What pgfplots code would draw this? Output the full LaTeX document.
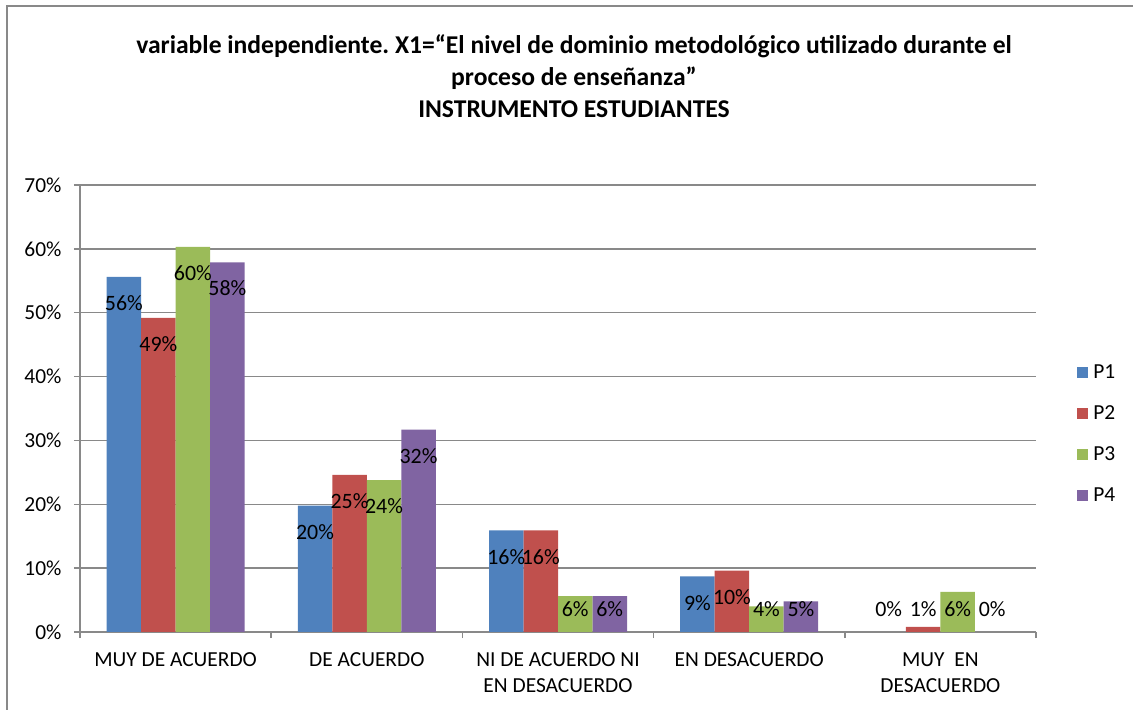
\documentclass[border=0pt]{standalone}
\usepackage{fontspec}
\setmainfont{Carlito}
\usepackage{pgfplots}
\usepackage{pgfplotstable}
\pgfplotsset{compat=1.18}
\frenchspacing
\definecolor{cP1}{HTML}{4F81BD}
\definecolor{cP2}{HTML}{C0504D}
\definecolor{cP3}{HTML}{9BBB59}
\definecolor{cP4}{HTML}{8064A2}
\definecolor{gridc}{HTML}{898989}
\pgfplotstableread{
cat P1 P2 P3 P4
0 55.6 49.2 60.3 57.9
1 19.8 24.6 23.8 31.7
2 15.9 15.9 5.6 5.6
3 8.7 9.6 4.0 4.8
4 0 0.8 6.3 0
}\datatable
\pgfplotsset{sqleg/.style={legend image code/.code={\fill[##1] (0bp,-5.5bp) rectangle (11bp,5.5bp);}}}
\begin{document}
\begin{tikzpicture}
\useasboundingbox (0,0) rectangle (1133bp,710bp);
\draw[gridc, line width=2bp] (7bp,-5bp) -- (7bp,703.5bp) -- (1140bp,703.5bp);
\node[align=center, font=\bfseries\fontsize{25.7}{32}\selectfont] at (574bp,633.5bp) {variable independiente. X1=“El nivel de dominio metodológico utilizado durante el\\proceso de enseñanza”\\INSTRUMENTO ESTUDIANTES};
\begin{axis}[
 at={(80bp,78bp)}, anchor=south west, width=956bp, height=447bp, scale only axis,
 ymin=0, ymax=70, xmin=-0.5, xmax=4.5,
 ybar=0pt, bar width=34.5bp,
 axis x line=bottom, axis y line=left, axis line style={gridc, line width=1.5bp, -},
 ymajorgrids, grid style={gridc, line width=1.5bp},
 ytick={0,10,...,70}, yticklabel={\pgfmathprintnumber{\tick}\%},
 xtick={-0.5,0.5,1.5,2.5,3.5,4.5}, x tick label as interval,
 xticklabels={MUY DE ACUERDO, DE ACUERDO, {NI DE ACUERDO NI\\EN DESACUERDO}, EN DESACUERDO, {MUY\ \ EN\\DESACUERDO}},
 tick align=outside, major tick length=6bp, tick style={gridc, line width=1.5bp},
 tick label style={font=\fontsize{21.5}{26}\selectfont, text=black},
 xticklabel style={align=center, yshift=-11bp},
 yticklabel style={xshift=-9bp},
 /pgf/number format/assume math mode=true,
 visualization depends on={rawy \as \yv},
 nodes near coords={\pgfmathprintnumber[fixed,precision=0]{\yv}\%},
 every node near coord/.append style={font=\fontsize{22}{26}\selectfont, anchor=center, text=black, inner sep=0pt, yshift={(max(\yv-4.1,3.6)-\yv)*6.386bp}},
 legend style={at={(1.043,0.443)}, anchor=west, draw=none, fill=none, font=\fontsize{21.5}{26}\selectfont, row sep=21.5bp, inner sep=0pt, nodes={inner sep=2bp}},
 legend cell align=left,
]
\addplot[fill=cP1, draw=none, sqleg] table[x=cat, y=P1] {\datatable};
\addplot[fill=cP2, draw=none, sqleg] table[x=cat, y=P2] {\datatable};
\addplot[fill=cP3, draw=none, sqleg] table[x=cat, y=P3] {\datatable};
\addplot[fill=cP4, draw=none, sqleg] table[x=cat, y=P4] {\datatable};
\legend{\hspace{3bp}P1, \hspace{3bp}P2, \hspace{3bp}P3, \hspace{3bp}P4}
\end{axis}
\end{tikzpicture}
\end{document}
